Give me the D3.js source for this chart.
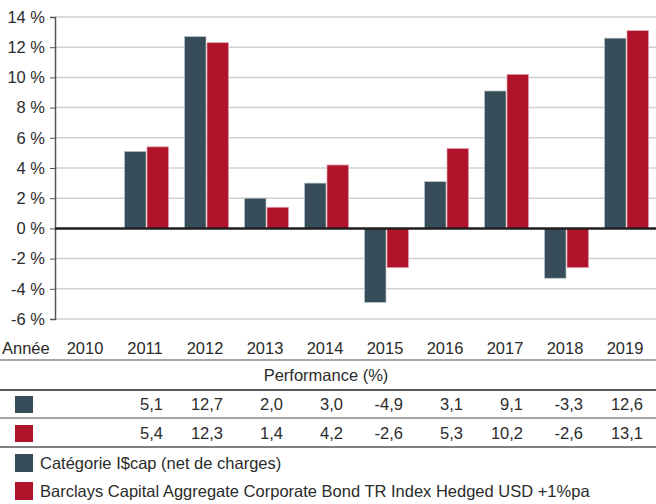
<!DOCTYPE html>
<html>
<head>
<meta charset="utf-8">
<script src="https://cdn.jsdelivr.net/npm/d3@7"></script>
<style>
  body { margin: 0; background: #fff; }
  svg { font-family: "Liberation Sans", Arial, sans-serif; }
</style>
</head>
<body>
<div id="chart"></div>
<script>
// data
var years = ["2010", "2011", "2012", "2013", "2014", "2015", "2016", "2017", "2018", "2019"];
var fundValues = [null, 5.1, 12.7, 2.0, 3.0, -4.9, 3.1, 9.1, -3.3, 12.6];
var indexValues = [null, 5.4, 12.3, 1.4, 4.2, -2.6, 5.3, 10.2, -2.6, 13.1];
var yTicks = [-6, -4, -2, 0, 2, 4, 6, 8, 10, 12, 14];
var seriesNames = ["Catégorie I$cap (net de charges)", "Barclays Capital Aggregate Corporate Bond TR Index Hedged USD +1%pa"];
var colors = ["#364c59", "#b0142b"];

var width = 656, height = 504;
var svg = d3.select("#chart").append("svg")
    .attr("width", width)
    .attr("height", height);

var x = d3.scaleBand()
    .domain(years)
    .range([55, 655]);

var y = d3.scaleLinear()
    .domain([-6, 14])
    .range([319, 17]);

// gridlines
svg.append("g")
    .selectAll("line")
    .data(yTicks)
    .enter()
    .append("line")
    .attr("x1", 55)
    .attr("x2", width)
    .attr("y1", d => y(d))
    .attr("y2", d => y(d))
    .attr("stroke", "#cfcfcf")
    .attr("stroke-width", 1.5);

// y axis
svg.append("g")
    .attr("transform", "translate(55,0)")
    .call(d3.axisLeft(y).tickValues(yTicks).tickSize(5).tickPadding(5).tickFormat(d => d + " %"))
    .call(g => g.select(".domain").attr("stroke", "#555").attr("stroke-width", 1.5))
    .call(g => g.selectAll(".tick line").attr("stroke", "#555"))
    .call(g => g.selectAll("text").attr("fill", "#2b2b2b").style("font-size", "16.5px"));

// bars
var barW = 21.5;
var series = [fundValues, indexValues];
series.forEach(function (vals, s) {
    svg.append("g")
        .selectAll("rect")
        .data(years.map((yr, i) => ({ year: yr, v: vals[i] })).filter(d => d.v !== null))
        .enter()
        .append("rect")
        .attr("x", d => x(d.year) + x.bandwidth() / 2 + 1.5 - barW - 0.5 + s * (barW + 1))
        .attr("width", barW)
        .attr("y", d => y(Math.max(0, d.v)))
        .attr("height", d => Math.abs(y(d.v) - y(0)))
        .attr("fill", colors[s])
        .attr("stroke", s == 0 ? "#b9c3c9" : "#e3a3ad")
        .attr("stroke-width", 0.7);
});

// zero line
svg.append("line")
    .attr("x1", 55)
    .attr("x2", width)
    .attr("y1", y(0))
    .attr("y2", y(0))
    .attr("stroke", "#231f20")
    .attr("stroke-width", 2.5);

// year row
svg.append("text")
    .attr("x", 2)
    .attr("y", 354)
    .style("font-size", "16.5px")
    .attr("fill", "#2b2b2b")
    .text("Année");

svg.append("g")
    .selectAll("text")
    .data(years)
    .enter()
    .append("text")
    .attr("x", d => x(d) + x.bandwidth() / 2)
    .attr("y", 354)
    .attr("text-anchor", "middle")
    .style("font-size", "16.5px")
    .attr("fill", "#2b2b2b")
    .text(d => d);

// table rules
var rules = [
    { y: 360, c: "#8a8a8a", w: 1.5 },
    { y: 390, c: "#231f20", w: 1.5 },
    { y: 418, c: "#8a8a8a", w: 1.5 },
    { y: 447, c: "#555", w: 1.5 }
];
svg.append("g")
    .selectAll("line")
    .data(rules)
    .enter()
    .append("line")
    .attr("x1", 0)
    .attr("x2", width)
    .attr("y1", d => d.y)
    .attr("y2", d => d.y)
    .attr("stroke", d => d.c)
    .attr("stroke-width", d => d.w);

svg.append("text")
    .attr("x", 326)
    .attr("y", 381)
    .attr("text-anchor", "middle")
    .style("font-size", "16.5px")
    .attr("fill", "#2b2b2b")
    .text("Performance (%)");

// value rows
var rowY = [410, 439];
series.forEach(function (vals, s) {
    svg.append("rect")
        .attr("x", 15)
        .attr("y", rowY[s] - 14)
        .attr("width", 18)
        .attr("height", 17)
        .attr("fill", colors[s]);

    svg.append("g")
        .selectAll("text")
        .data(years.map((yr, i) => ({ year: yr, v: vals[i] })).filter(d => d.v !== null))
        .enter()
        .append("text")
        .attr("x", d => x(d.year) + x.bandwidth() / 2 + 18)
        .attr("y", rowY[s])
        .attr("text-anchor", "end")
        .style("font-size", "16.5px")
        .attr("fill", "#2b2b2b")
        .text(d => d.v.toFixed(1).replace(".", ","));
});

// legend
var legY = [469, 497];
seriesNames.forEach(function (name, s) {
    svg.append("rect")
        .attr("x", 15)
        .attr("y", legY[s] - 15)
        .attr("width", 18)
        .attr("height", 18)
        .attr("fill", colors[s]);
    svg.append("text")
        .attr("x", 40)
        .attr("y", legY[s])
        .style("font-size", "16.5px")
        .attr("fill", "#2b2b2b")
        .text(name);
});
</script>
</body>
</html>
